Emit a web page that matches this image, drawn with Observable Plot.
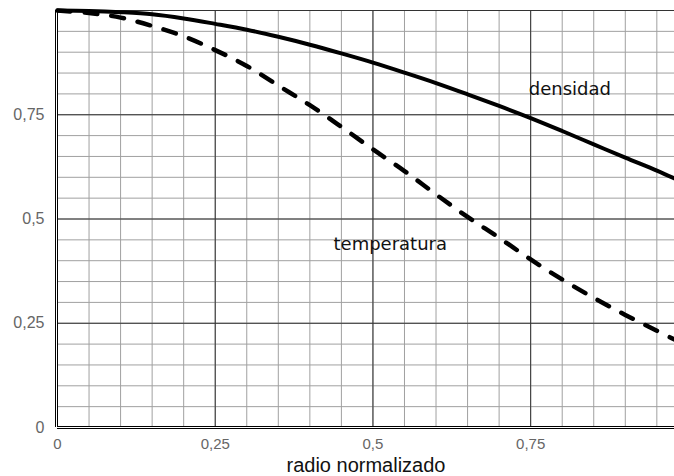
<!DOCTYPE html>
<html><head><meta charset="utf-8">
<script src="https://cdn.jsdelivr.net/npm/d3@7"></script>
<script src="https://cdn.jsdelivr.net/npm/@observablehq/plot@0.6"></script>
<style>html,body{margin:0;padding:0;background:#fff}</style>
</head><body><div id="chart"></div>
<script>
const radio = [0, 0.05, 0.1, 0.15, 0.2, 0.25, 0.3, 0.35, 0.4, 0.45, 0.5, 0.55, 0.6, 0.65, 0.7, 0.75, 0.8, 0.85, 0.9, 0.95, 0.978];
const densidad = [1.0, 0.999, 0.996, 0.991, 0.981, 0.968, 0.954, 0.937, 0.918, 0.897, 0.875, 0.851, 0.826, 0.799, 0.771, 0.742, 0.711, 0.679, 0.647, 0.616, 0.597];
const temperatura = [1.0, 0.994, 0.983, 0.963, 0.938, 0.905, 0.867, 0.820, 0.773, 0.721, 0.667, 0.615, 0.559, 0.505, 0.455, 0.403, 0.355, 0.311, 0.270, 0.232, 0.211];

const xTickValues = [0, 0.25, 0.5, 0.75];
const xTickLabels = ["0", "0,25", "0,5", "0,75"];
const yTickValues = [0, 0.25, 0.5, 0.75];
const yTickLabels = ["0", "0,25", "0,5", "0,75"];

const seriesNames = ["densidad", "temperatura"];
const labelX = [0.747, 0.4375];
const labelY = [0.812, 0.44];
const xTitle = "radio normalizado";

const rows = radio.map((r, i) => ({r, d: densidad[i], t: temperatura[i]}));
const labels = seriesNames.map((name, i) => ({name, x: labelX[i], y: labelY[i]}));

const minorX = d3.range(0.05, 0.97, 0.05);
const minorY = d3.range(0.05, 0.99, 0.05);
const majorX = [0.25, 0.5, 0.75];
const majorY = [0.25, 0.5, 0.75, 1];

const chart = Plot.plot({
  width: 674,
  height: 476,
  marginLeft: 57,
  marginRight: 0,
  marginTop: 10,
  marginBottom: 49,
  x: {domain: [0, 0.978]},
  y: {domain: [0, 1]},
  style: {background: "#fff", fontFamily: "'Liberation Sans', Arial, sans-serif", fontSize: "16px"},
  marks: [
    Plot.ruleX(minorX, {stroke: "#a0a0a0", strokeWidth: 1}),
    Plot.ruleY(minorY, {stroke: "#a0a0a0", strokeWidth: 1}),
    Plot.ruleX(majorX, {stroke: "#333", strokeWidth: 1}),
    Plot.ruleY(majorY, {stroke: "#333", strokeWidth: 1}),
    Plot.ruleX([0], {stroke: "#000", strokeWidth: 1, dx: -2}),
    Plot.ruleX([0], {stroke: "#000", strokeWidth: 1}),
    Plot.ruleY([0], {stroke: "#000", strokeWidth: 1, dy: -1}),
    Plot.ruleY([0], {stroke: "#000", strokeWidth: 1, dy: 1}),
    Plot.line(rows, {x: "r", y: "d", stroke: "#000", strokeWidth: 4, curve: "catmull-rom"}),
    Plot.line(rows, {x: "r", y: "t", stroke: "#000", strokeWidth: 4.5, strokeDasharray: "13,14", curve: "catmull-rom"}),
    Plot.text(labels, {x: "x", y: "y", text: "name", textAnchor: "start", fontFamily: "'DejaVu Sans', sans-serif", fontSize: 18, fill: "#111"}),
    Plot.axisX({ticks: xTickValues, tickFormat: (d) => xTickLabels[xTickValues.indexOf(d)], tickSize: 0, tickPadding: 11, color: "#666", label: null, fontSize: 15}),
    Plot.axisY({ticks: yTickValues, tickFormat: (d) => yTickLabels[yTickValues.indexOf(d)], tickSize: 0, tickPadding: 13, color: "#666", label: null, fontSize: 16}),
    Plot.text([xTitle], {frameAnchor: "bottom", dy: 44, fontSize: 20, fill: "#111", fontFamily: "'Liberation Sans', Arial, sans-serif"})
  ]
});
document.getElementById("chart").appendChild(chart);
</script>
</body></html>
